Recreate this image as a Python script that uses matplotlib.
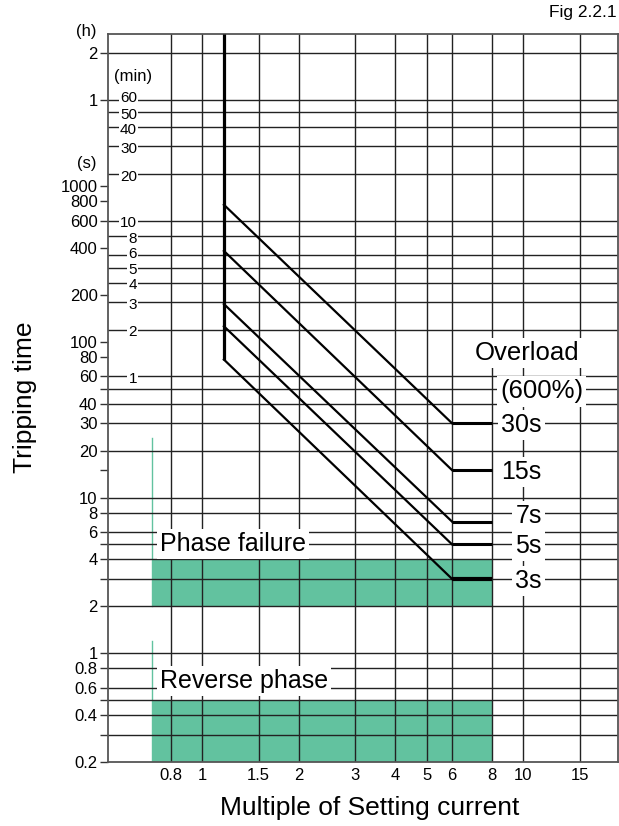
import matplotlib
matplotlib.use('Agg')
import matplotlib.pyplot as plt
from matplotlib.ticker import NullLocator

plt.rcParams['font.family'] = ['Liberation Sans', 'DejaVu Sans']

# multiples of setting current (vertical grid / x ticks)
x_grid = [0.8, 1, 1.5, 2, 3, 4, 5, 6, 8, 10, 15]
x_labels = ['0.8', '1', '1.5', '2', '3', '4', '5', '6', '8', '10', '15']

# tripping time axis (seconds)
y_ticks = [0.2, 0.3, 0.4, 0.5, 0.6, 0.8, 1, 2, 3, 4, 5, 6, 8, 10, 15, 20, 30, 40, 50,
           60, 80, 100, 200, 400, 600, 800, 1000, 3600, 7200]
y_labels = ['0.2', '', '0.4', '', '0.6', '0.8', '1', '2', '', '4', '', '6', '8', '10', '',
            '20', '30', '40', '', '60', '80', '100', '200', '400', '600', '800', '1000',
            '1', '2']
y_grid = [0.3, 0.4, 0.5, 0.6, 0.8, 1, 2, 3, 4, 5, 6, 8, 10, 20, 30, 40, 50, 60,
          120, 180, 240, 300, 360, 480, 600, 1200, 1800, 2400, 3000, 3600, 7200]

# minute scale drawn inside the plot
min_secs = [3600, 3000, 2400, 1800, 1200, 600, 480, 360, 300, 240, 180, 120, 60]
min_labels = ['60', '50', '40', '30', '20', '10', '8', '6', '5', '4', '3', '2', '1']

# overload curves (trip class)
classes = ['30s', '15s', '7s', '5s', '3s']
t_trip = [30, 15, 7, 5, 3]
t_start = [760, 384, 175, 126, 77]
start_x = 1.17
knee_x = 6
end_x = 8

# phase protection zones
zone_x = [0.7, 8]
phase_fail = (2, 4)
phase_fail_mark = 24
reverse = (0.2, 0.5)
reverse_mark = 1.2

green = '#62C29F'
grid_col = '#222222'

fig = plt.figure(figsize=(6.19, 8.26), dpi=100)
ax = fig.add_axes([108/619, 1-762/826, 510/619, 728/826])
ax.set_xscale('log')
ax.set_yscale('log')
ax.set_xlim(0.51, 19.7)
ax.set_ylim(0.2, 9500)

for v in y_grid:
    ax.axhline(v, color=grid_col, lw=1.0, zorder=1)
for v in x_grid:
    ax.axvline(v, color=grid_col, lw=1.0, zorder=1)

# green zones
ax.fill_between(zone_x, phase_fail[0], phase_fail[1], color=green, lw=0, zorder=0.5)
ax.fill_between(zone_x, reverse[0], reverse[1], color=green, lw=0, zorder=0.5)
ax.plot([zone_x[0], zone_x[0]], [phase_fail[0], phase_fail_mark], color=green, lw=1, zorder=0.6)
ax.plot([zone_x[0], zone_x[0]], [reverse[0], reverse_mark], color=green, lw=1, zorder=0.6)

# curves
ax.plot([start_x, start_x], [min(t_start), 9500], color='k', lw=2.3, zorder=3,
        solid_capstyle='butt')
for ts, tt, c in zip(t_start, t_trip, classes):
    ax.plot([start_x, knee_x], [ts, tt], color='k', lw=1.6, zorder=3)
    ax.plot([knee_x, end_x], [tt, tt], color='k', lw=3 if c == '3s' else 2.2, zorder=3,
            solid_capstyle='butt')

box = dict(facecolor='white', edgecolor='none', boxstyle='square,pad=0.12')
for c, tt in zip(classes, t_trip):
    ty = tt * 1.09 if c == '7s' else tt * 0.97
    ax.text(11.4, ty, c, fontsize=18, ha='right', va='center', bbox=box, zorder=4)
ax.text(10.3, 85, 'Overload', fontsize=18.5, ha='center', va='center', bbox=box, zorder=4)
ax.text(11.4, 48, '(600%)', fontsize=18.5, ha='center', va='center', bbox=box, zorder=4)
ax.text(0.74, 5.0, 'Phase failure', fontsize=18, ha='left', va='center', bbox=box, zorder=4)
ax.text(0.74, 0.66, 'Reverse phase', fontsize=18, ha='left', va='center', bbox=box, zorder=4)

# minute labels (the tightly packed 60 and 6 sit a touch higher)
ytr = ax.get_yaxis_transform()
for s, lab in zip(min_secs, min_labels):
    ty = s * 1.02 if lab in ('60', '6') else s * 0.96
    ax.text(0.057, ty, lab, transform=ytr, fontsize=11, ha='right', va='center',
            bbox=dict(facecolor='white', edgecolor='none', boxstyle='square,pad=0.08'),
            zorder=4)
ax.text(0.049, 5090, '(min)', transform=ytr, fontsize=12, ha='center', va='center')
ax.text(-0.041, 1400, '(s)', transform=ytr, fontsize=12, ha='center', va='center')
ax.text(-0.043, 9900, '(h)', transform=ytr, fontsize=12, ha='center', va='center', clip_on=False)

ax.set_xticks(x_grid)
ax.set_xticklabels(x_labels)
ax.set_yticks(y_ticks)
ax.set_yticklabels(y_labels)
ax.xaxis.set_minor_locator(NullLocator())
ax.yaxis.set_minor_locator(NullLocator())
ax.tick_params(axis='x', length=0, pad=4, labelsize=12)
ax.tick_params(axis='y', length=6, width=1, color='#333', pad=1.5, labelsize=12)
for sp in ax.spines.values():
    sp.set_color('#555')
    sp.set_linewidth(1.3)

ax.set_xlabel('Multiple of Setting current', fontsize=19, va='center')
ax.xaxis.set_label_coords(0.514, -0.063)
ax.set_ylabel('Tripping time', fontsize=19, va='center')
ax.yaxis.set_label_coords(-0.163, 0.501)

fig.text(617/619, 1-12/826, 'Fig 2.2.1', fontsize=12.5, ha='right', va='center')

fig.savefig('out.png', dpi=100)
